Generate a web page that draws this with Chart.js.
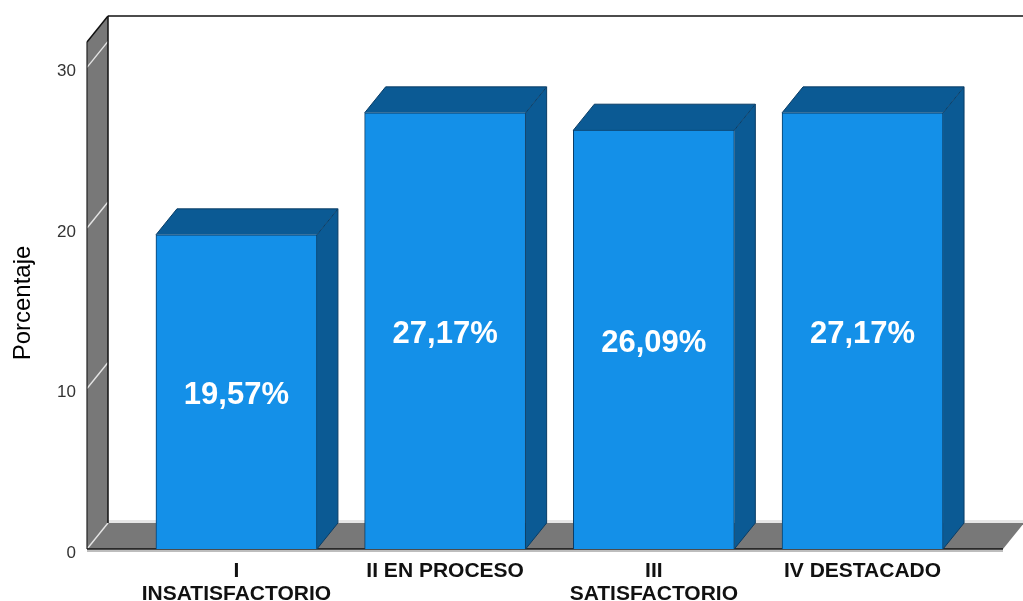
<!DOCTYPE html>
<html><head><meta charset="utf-8">
<style>html,body{margin:0;padding:0;background:#fff}#w{width:1023px;height:601px;position:relative}</style>
<script src="https://cdn.jsdelivr.net/npm/chart.js@4"></script>
</head><body><div id="w"><canvas id="c" width="1023" height="601"></canvas></div>
<script>
const categories = [["I","INSATISFACTORIO"],"II EN PROCESO",["III","SATISFACTORIO"],"IV DESTACADO"];
const positions = [0,1,2,3];
const percentages = [19.57,27.17,26.09,27.17];
const axisTitle = "Porcentaje";
const DX = 21, DY = -26;

const box3d = {
  id:'box3d',
  beforeDatasetsDraw(chart){
    const {ctx,chartArea:a,scales:{y}} = chart;
    const L=a.left,B=y.getPixelForValue(0),T=a.top-15,R=a.right;
    const poly=(pts,fill)=>{ctx.beginPath();pts.forEach((p,i)=>i?ctx.lineTo(p[0],p[1]):ctx.moveTo(p[0],p[1]));ctx.closePath();ctx.fillStyle=fill;ctx.fill();};
    const line=(x1,y1,x2,y2,c,w)=>{ctx.beginPath();ctx.moveTo(x1,y1);ctx.lineTo(x2,y2);ctx.strokeStyle=c;ctx.lineWidth=w;ctx.stroke();};
    ctx.save();
    poly([[L,T],[L+DX,T+DY],[L+DX,B+DY],[L,B]],'#787878');
    ctx.fillStyle='#e6e6e6';ctx.fillRect(L+DX,B+DY-3,R-L,3);
    poly([[L,B],[L+DX,B+DY],[R+DX,B+DY],[R,B]],'#787878');
    y.ticks.forEach(t=>{const p=y.getPixelForValue(t.value);line(L,p,L+DX,p+DY,'#e4e4e4',1.4);});
    line(L,T,L+DX,T+DY,'#111',1.5);
    line(L+DX,T+DY,1023,T+DY,'#111',1.5);
    line(L+DX,T+DY,L+DX,B+DY,'#111',1.5);
    line(L,T,L,B,'#222',1.2);
    ctx.fillStyle='#bdbdbd';ctx.fillRect(L,B+1,R-L,2);
    line(L,B,R,B,'#111',1.5);
    chart.getDatasetMeta(0).data.forEach(b=>{
      const l=b.x-b.width/2,r=b.x+b.width/2,t=b.y,bt=b.base;
      poly([[r,t],[r+DX,t+DY],[r+DX,bt+DY],[r,bt]],'#0b5a94');
      poly([[l,t],[l+DX,t+DY],[r+DX,t+DY],[r,t]],'#0b5a94');
      ctx.strokeStyle='#0a3d66';ctx.lineWidth=1;
      ctx.beginPath();ctx.moveTo(l,t);ctx.lineTo(l+DX,t+DY);ctx.lineTo(r+DX,t+DY);ctx.lineTo(r+DX,bt+DY);ctx.lineTo(r,bt);ctx.moveTo(r,t);ctx.lineTo(r+DX,t+DY);ctx.stroke();
    });
    ctx.restore();
  },
  afterDatasetsDraw(chart){
    const {ctx}=chart;
    ctx.save();
    ctx.fillStyle='#fff';ctx.font='bold 31px "Liberation Sans"';ctx.textAlign='center';ctx.textBaseline='middle';
    chart.getDatasetMeta(0).data.forEach((b,i)=>{
      ctx.fillText(percentages[i].toFixed(2).replace('.',',')+'%',b.x,(b.y+b.base)/2+4);
    });
    ctx.restore();
  }
};

new Chart(document.getElementById('c'),{
  type:'bar',
  data:{datasets:[{
    data:positions.map((p,i)=>({x:p,y:percentages[i]})),
    backgroundColor:'#1490e8',borderColor:'#0a3d66',borderWidth:1,barThickness:161
  }]},
  plugins:[box3d],
  options:{
    responsive:false,animation:false,
    layout:{padding:{top:57,right:20,left:0,bottom:0}},
    plugins:{legend:{display:false},tooltip:{enabled:false}},
    scales:{
      x:{type:'linear',offset:false,min:-0.716,max:3.673,
        grid:{display:false},border:{display:false},
        afterBuildTicks(s){s.ticks=positions.map(v=>({value:v}));},
        afterFit(s){s.height=52;},
        ticks:{stepSize:1,includeBounds:false,autoSkip:false,maxRotation:0,minRotation:0,padding:3,
          color:'#111',font:{family:'"Liberation Sans"',size:21,weight:'bold',lineHeight:1.08},
          callback:v=>categories[v]}
      },
      y:{min:0,max:30.65,
        grid:{display:false},border:{display:false},
        afterFit(s){s.width=87;},
        title:{display:true,text:axisTitle,color:'#000',font:{family:'"Liberation Sans"',size:24},padding:{top:9,bottom:0}},
        ticks:{stepSize:10,includeBounds:false,padding:3,labelOffset:4,color:'#333',font:{family:'"Liberation Sans"',size:17}}
      }
    }
  }
});
</script></body></html>
